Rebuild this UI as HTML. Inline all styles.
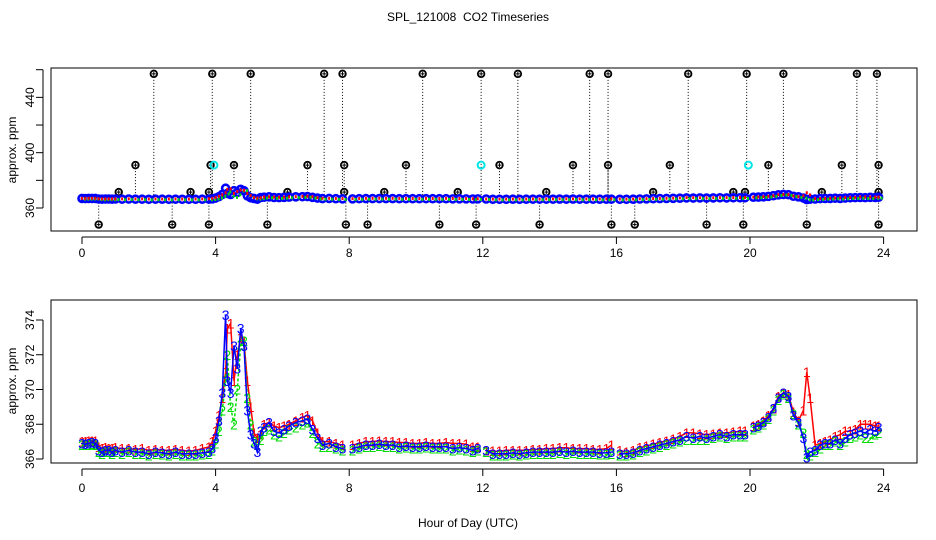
<!DOCTYPE html>
<html><head><meta charset="utf-8"><style>
body{margin:0;background:#fff}
svg{display:block;font-family:"Liberation Sans",sans-serif}
</style></head><body>
<svg id="c" width="936" height="540" viewBox="0 0 936 540">
<text x="468" y="21" text-anchor="middle" font-size="12" style="white-space:pre" xml:space="preserve">SPL_121008  CO2 Timeseries</text>
<text x="468" y="527" text-anchor="middle" font-size="12">Hour of Day (UTC)</text>
</svg>
<script>
const hours=[0,0.1,0.2,0.3,0.4,0.5,0.6,0.7,0.8,0.9,1.0,1.2,1.4,1.6,1.8,2.0,2.2,2.4,2.6,2.8,3.0,3.2,3.4,3.6,3.8,3.9,4.0,4.1,4.2,4.3,4.35,4.45,4.55,4.65,4.75,4.85,4.95,5.05,5.15,5.25,5.35,5.45,5.6,5.75,5.9,6.05,6.2,6.4,6.6,6.75,6.9,7.05,7.2,7.4,7.6,7.8,8.0,8.1,8.3,8.5,8.7,8.9,9.1,9.3,9.5,9.7,9.9,10.1,10.3,10.5,10.7,10.9,11.1,11.3,11.5,11.7,11.85,12.0,12.1,12.3,12.5,12.7,12.9,13.1,13.3,13.5,13.7,13.9,14.1,14.3,14.5,14.7,14.9,15.1,15.3,15.5,15.7,15.85,16.0,16.1,16.3,16.5,16.7,16.9,17.1,17.3,17.5,17.7,17.9,18.1,18.3,18.5,18.7,18.9,19.1,19.3,19.5,19.7,19.85,19.95,20.1,20.25,20.4,20.55,20.7,20.85,21.0,21.15,21.3,21.45,21.6,21.7,21.8,21.95,22.1,22.25,22.4,22.55,22.7,22.85,23.0,23.15,23.3,23.45,23.6,23.75,23.85];
const series3=[366.9,366.85,366.9,366.95,366.9,366.5,366.4,366.5,366.5,366.4,366.5,366.4,366.5,366.4,366.4,366.3,366.4,366.35,366.3,366.4,366.3,366.3,366.3,366.35,366.4,366.6,367.2,368.2,369.8,374.3,370.5,369.8,372.5,371.2,373.5,372.5,368.8,367.4,366.9,366.4,367.6,367.8,368.1,367.6,367.5,367.7,367.9,368.1,368.2,368.3,367.7,367.2,366.8,366.9,366.7,366.6,null,366.6,366.7,366.8,366.8,366.85,366.8,366.8,366.7,366.75,366.7,366.7,366.75,366.7,366.7,366.7,366.6,366.65,366.6,366.5,366.6,null,366.5,366.3,366.3,366.3,366.35,366.3,366.35,366.4,366.4,366.4,366.4,366.45,366.4,366.45,366.4,366.4,366.4,366.35,366.35,366.4,null,366.3,366.3,366.35,366.5,366.6,366.7,366.8,366.9,367.0,367.1,367.3,367.2,367.3,367.2,367.3,367.4,367.3,367.4,367.4,367.4,null,367.8,367.9,368.1,368.4,368.9,369.5,369.8,369.6,368.5,368.1,367.2,366.1,366.4,366.5,366.8,366.9,366.9,367.1,366.9,367.2,367.4,367.5,367.6,367.5,367.7,367.6,367.8];
const series1=[367.0,367.0,367.05,367.05,367.05,366.7,366.6,366.65,366.6,366.6,366.65,366.6,366.6,366.55,366.6,366.5,366.55,366.5,366.5,366.55,366.5,366.45,366.5,366.6,366.7,367.0,367.6,368.5,369.5,371.0,373.5,373.8,370.5,372.0,373.0,372.8,370.5,369.0,367.5,367.2,367.4,368.0,368.1,367.9,367.8,367.9,368.0,368.2,368.4,368.5,368.2,367.5,367.0,367.0,366.9,366.8,null,366.8,366.9,367.0,367.0,367.05,367.0,367.0,366.95,366.95,366.9,366.9,366.95,366.9,366.9,366.95,366.9,366.9,366.85,366.7,366.7,null,366.5,366.45,366.45,366.5,366.5,366.5,366.5,366.55,366.55,366.6,366.6,366.65,366.65,366.6,366.6,366.6,366.55,366.55,366.6,366.8,null,366.5,366.4,366.5,366.65,366.75,366.85,366.95,367.05,367.15,367.3,367.5,367.5,367.45,367.4,367.45,367.5,367.5,367.55,367.6,367.6,null,367.9,368.0,368.2,368.5,368.9,369.6,369.8,369.7,368.7,368.2,368.8,371.0,369.5,366.8,366.9,367.0,367.1,367.3,367.4,367.6,367.6,367.7,368.0,368.0,368.0,367.9,367.9];
const series2=[366.8,366.8,366.8,366.85,366.8,366.4,366.3,366.4,366.4,366.3,366.4,366.3,366.4,366.3,366.3,366.2,366.3,366.25,366.2,366.3,366.2,366.2,366.2,366.25,366.3,366.5,366.9,367.6,368.8,370.5,372.0,369.0,368.0,370.0,372.6,372.8,369.5,368.0,367.0,366.8,367.1,367.6,367.7,367.4,367.3,367.5,367.7,367.8,368.0,368.1,367.5,366.9,366.7,366.7,366.6,366.5,null,366.5,366.6,366.7,366.7,366.75,366.7,366.7,366.6,366.65,366.6,366.6,366.65,366.6,366.6,366.6,366.5,366.55,366.5,366.4,366.5,null,366.4,366.2,366.2,366.2,366.25,366.2,366.25,366.3,366.3,366.3,366.3,366.35,366.3,366.35,366.3,366.3,366.3,366.25,366.25,366.3,null,366.2,366.2,366.25,366.4,366.5,366.6,366.7,366.8,366.9,367.0,367.1,367.1,367.1,367.1,367.2,367.3,367.2,367.3,367.3,367.3,null,367.7,367.8,368.0,368.3,368.8,369.4,369.7,369.5,368.6,368.0,367.5,366.3,366.2,366.4,366.6,366.8,366.8,367.0,366.8,367.0,367.2,367.3,367.4,367.2,367.2,367.4,367.5];
const outHighHours=[2.15,3.9,5.05,7.25,7.8,10.2,11.95,13.05,15.2,15.75,18.15,19.9,21.0,23.2,23.8];
const outHighVals=[457,457,457,457,457,457,457,457,457,457,457,457,457,457,457];
const outMidHours=[1.6,3.85,4.55,6.75,7.85,9.7,12.5,14.7,15.75,17.6,20.55,22.75,23.85];
const outMidVals=[391,391,391,391,391,391,391,391,391,391,391,391,391];
const outLowHours=[0.5,2.7,3.8,5.55,7.9,8.55,10.7,11.8,13.7,15.85,16.55,18.7,19.8,21.7,23.85];
const outLowVals=[348,348,348,348,348,348,348,348,348,348,348,348,348,348,348];
const outSmallHours=[1.1,3.25,3.8,6.15,7.85,9.05,11.25,13.9,17.1,19.5,19.85,22.15,23.85];
const outSmallVals=[371.5,371.5,371.5,371.5,371.5,371.5,371.5,371.5,371.5,371.5,371.5,371.5,371.5];
const cyanHours=[3.95,11.95,19.95];
const cyanVals=[391,391,391];
const xTicks=[0,4,8,12,16,20,24];
const topYTicks=[360,380,400,420,440,460];
const topYLabels=["360","","400","","440",""];
const botYTicks=[366,368,370,372,374];
const botYLabels=["366","368","370","372","374"];

const svg=document.getElementById('c');
const NS='http://www.w3.org/2000/svg';
function mk(tag,attrs,parent){const e=document.createElementNS(NS,tag);for(const k in attrs)e.setAttribute(k,attrs[k]);(parent||svg).appendChild(e);return e;}
const xs=h=>82+33.4*h;
const yTop=v=>208-(v-360)*1.383;
const yBot=v=>459-(v-366)*17.375;

function axes(g,top,bottom,yfun,ticks,labels,axisY,labelY,titleY,pre){
  const box=mk('rect',{x:51,y:top,width:866,height:bottom-top,fill:'none',stroke:'#000','stroke-width':1},g);
  
  
  const xa=mk('g',{},g);
  
  
  mk('line',{x1:xs(0),x2:xs(24),y1:axisY,y2:axisY,stroke:'#000'},xa);
  xTicks.forEach(t=>{
    mk('line',{x1:xs(t),x2:xs(t),y1:axisY,y2:axisY+7,stroke:'#000'},xa);
    const tx=mk('text',{x:xs(t),y:labelY,'text-anchor':'middle','font-size':12},xa);
    tx.textContent=t;
    
    
  });
  const ya=mk('g',{},g);
  
  
  mk('line',{x1:43,x2:43,y1:yfun(ticks[ticks.length-1]),y2:yfun(ticks[0]),stroke:'#000'},ya);
  ticks.forEach((t,i)=>{
    mk('line',{x1:36,x2:43,y1:yfun(t),y2:yfun(t),stroke:'#000'},ya);
    if(labels[i]){
      const tx=mk('text',{x:0,y:0,transform:`translate(34,${yfun(t)}) rotate(-90)`,'text-anchor':'middle','font-size':12},ya);
      tx.textContent=labels[i];
      
      
    }
  });
  const tt=mk('text',{x:0,y:0,transform:`translate(16,${titleY}) rotate(-90)`,'text-anchor':'middle','font-size':12},ya);
  tt.textContent='approx. ppm';
  
  
}

// TOP PANEL
const gt=mk('g',{});


axes(gt,68,231,yTop,topYTicks,topYLabels,237,257,150,'top');
const base=367.2;
function outliers(hs,vs,color,name){
  hs.forEach((h,i)=>{
    const x=xs(h),y=yTop(vs[i]);
    mk('line',{x1:x,x2:x,y1:y,y2:yTop(base),stroke:'#000','stroke-dasharray':'1,2','stroke-width':1},gt);
  });
  hs.forEach((h,i)=>{
    const x=xs(h),y=yTop(vs[i]);
    const c=mk('circle',{cx:x,cy:y,r:3.3,fill:'#fff',stroke:color,'stroke-width':1.8},gt);
    
    
    mk('line',{x1:x-2,x2:x+2,y1:y,y2:y,stroke:color,'stroke-width':1},gt);
    mk('line',{x1:x,x2:x,y1:y-2,y2:y+2,stroke:color,'stroke-width':1},gt);
  });
}
outliers(outHighHours,outHighVals,'#000','outlier-high');
outliers(outMidHours,outMidVals,'#000','outlier-mid');
outliers(outLowHours,outLowVals,'#000','outlier-low');
outliers(outSmallHours,outSmallVals,'#000','outlier-small');
hours.forEach((h,i)=>{
  if(series3[i]==null)return;
  const c=mk('circle',{cx:xs(h),cy:yTop(series3[i]),r:3.5,fill:'none',stroke:'#0000ff','stroke-width':2.6},gt);
  
  
});
hours.forEach((h,i)=>{
  if(series1[i]==null)return;
  const r=mk('rect',{x:xs(h)-1,y:yTop(series1[i])-1.5,width:2,height:3,fill:'#ff0000'},gt);
  
  
  const g2=mk('rect',{x:xs(h)+2,y:yTop(series2[i])-1,width:2,height:3,fill:'#00dd00'},gt);
  
  
});
cyanHours.forEach((h,i)=>{
  const c=mk('circle',{cx:xs(h),cy:yTop(cyanVals[i]),r:3.5,fill:'none',stroke:'#00e5e5','stroke-width':2},gt);
  
  
});

// BOTTOM PANEL
const gb=mk('g',{});


axes(gb,300,463,yBot,botYTicks,botYLabels,469,492,381,'bottom');
function lineSeries(vals,color,ch,name,dash){
  let d='',pen=false;
  hours.forEach((h,i)=>{
    if(vals[i]==null){pen=false;return;}
    d+=(pen?'L':'M')+xs(h).toFixed(1)+' '+yBot(vals[i]).toFixed(1)+' ';
    pen=true;
  });
  const p=mk('path',{d:d,fill:'none',stroke:color,'stroke-width':1.5,'stroke-dasharray':dash||'none'},gb);
  
  
  hours.forEach((h,i)=>{
    if(vals[i]==null)return;
    const t=mk('text',{x:xs(h),y:yBot(vals[i])+5,'text-anchor':'middle','font-size':14,fill:color},gb);
    t.textContent=ch;
    
    
  });
}
lineSeries(series1,'#ff0000','1','series-1');
lineSeries(series2,'#00dd00','2','series-2','3,2');
lineSeries(series3,'#0000ff','3','series-3');
</script>
</body></html>
